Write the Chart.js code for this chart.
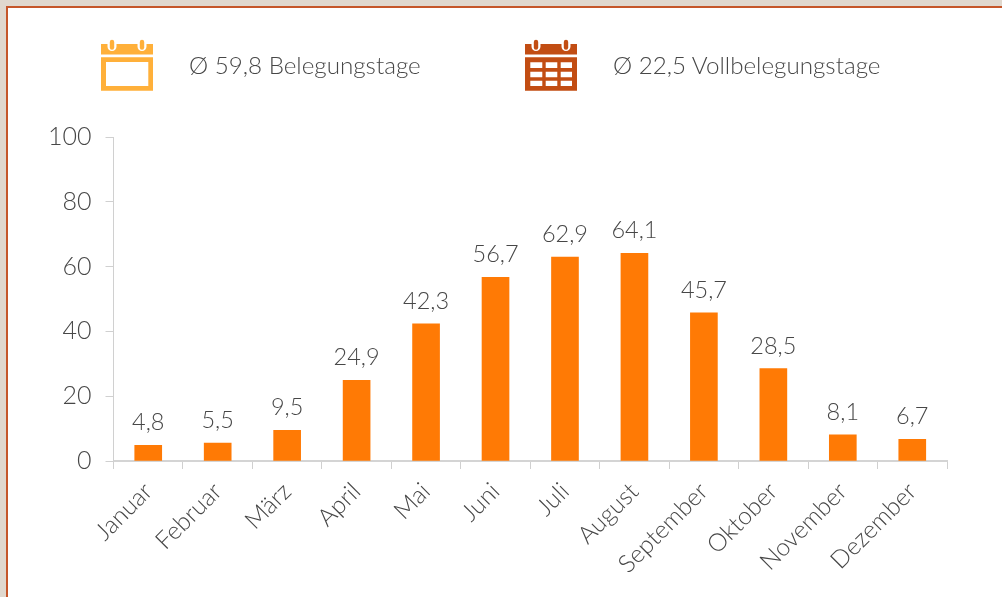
<!DOCTYPE html>
<html><head><meta charset="utf-8">
<script src="https://cdn.jsdelivr.net/npm/chart.js@4/dist/chart.umd.js"></script>
<style>
html,body{margin:0;padding:0;background:#fff;overflow:hidden}
#frame{position:absolute;left:0;top:0;width:1002px;height:597px;background:#e0d8ce}
#inner{position:absolute;left:6px;top:6px;width:996px;height:591px;background:#fff;border-left:2px solid #c5562a;border-top:2px solid #c5562a;box-sizing:border-box}
#c{position:absolute;left:0;top:0}
.lg{position:absolute;top:50px;font:300 24.2px Lato,sans-serif;color:#474747;white-space:nowrap;line-height:30px}
svg{position:absolute}
</style></head><body>
<div id="frame"><div id="inner"></div></div>
<canvas id="c" width="1002" height="597"></canvas>
<svg style="left:101px;top:39px" width="52" height="52" viewBox="0 0 52 52">
<path fill="#ffb03a" d="M0 5H6.500V7.500a4.500 4.500 0 0 0 9 0V5H36.500V7.500a4.500 4.500 0 0 0 9 0V5H52V15.600H0Z"/>
<rect x="8.800" y="0.700" width="4.400" height="10" rx="2.200" fill="#ffb03a"/><rect x="38.800" y="0.700" width="4.400" height="10" rx="2.200" fill="#ffb03a"/>
<path fill="#ffb03a" fill-rule="evenodd" d="M0 18.300H52V51.700H0ZM5 23V47H47.300V23Z"/>
</svg>
<svg style="left:525px;top:39px" width="52" height="52" viewBox="0 0 52 52">
<path fill="#c24d13" d="M0 5H6.500V7.500a4.500 4.500 0 0 0 9 0V5H36.500V7.500a4.500 4.500 0 0 0 9 0V5H52V15.600H0Z"/>
<rect x="8.800" y="0.700" width="4.400" height="10" rx="2.200" fill="#c24d13"/><rect x="38.800" y="0.700" width="4.400" height="10" rx="2.200" fill="#c24d13"/>
<path fill="#c24d13" fill-rule="evenodd" d="M0 18.300H52V51.700H0ZM5.300 23.300V29H17.300V23.300ZM20.700 23.300V29H32.300V23.300ZM35.700 23.300V29H47V23.300ZM5.300 32.700V38.300H17.300V32.700ZM20.700 32.700V38.300H32.300V32.700ZM35.700 32.700V38.300H47V32.700ZM5.300 41.700V47H17.300V41.700ZM20.700 41.700V47H32.300V41.700ZM35.700 41.700V47H47V41.700Z"/>
</svg>
<div class="lg" style="left:189px">Ø 59,8 Belegungstage</div>
<div class="lg" style="left:613px">Ø 22,5 Vollbelegungstage</div>
<script>
const categories=["Januar","Februar","März","April","Mai","Juni","Juli","August","September","Oktober","November","Dezember"];
const belegung=[4.8,5.5,9.5,24.9,42.3,56.7,62.9,64.1,45.7,28.5,8.1,6.7];
const yTicks=[0,20,40,60,80,100];
const valueLabels={id:'valueLabels',afterDatasetsDraw(chart){
  const ctx=chart.ctx,meta=chart.getDatasetMeta(0);
  ctx.save();ctx.font='300 23.5px Lato, sans-serif';ctx.fillStyle='#474747';ctx.textAlign='center';ctx.textBaseline='alphabetic';
  meta.data.forEach((b,i)=>ctx.fillText(String(belegung[i]).replace('.',','),b.x,b.y-15));
  ctx.restore();
}};
new Chart(document.getElementById('c'),{
  type:'bar',
  data:{labels:categories,datasets:[{data:belegung,backgroundColor:'#ff7a05',barThickness:27}]},
  plugins:[valueLabels],
  options:{
    responsive:false,animation:false,
    layout:{padding:{left:0,top:137,right:55,bottom:0}},
    plugins:{legend:{display:false},tooltip:{enabled:false},title:{display:false}},
    scales:{
      x:{
        afterFit(s){s.height=136},
        grid:{drawOnChartArea:false,color:'#d0d0d0',tickLength:8,lineWidth:1},
        border:{color:'#d4d4d4',width:2},
        ticks:{minRotation:45,maxRotation:45,padding:8,color:'#474747',autoSkip:false,font:{family:'Lato',weight:300,size:24.5}}
      },
      y:{
        min:0,max:100,
        afterFit(s){s.width=113.5},
        afterBuildTicks(s){s.ticks=yTicks.map(v=>({value:v}))},
        grid:{drawOnChartArea:false,color:'#d0d0d0',tickLength:8,lineWidth:1},
        border:{color:'#d0d0d0',width:1},
        ticks:{padding:14,color:'#474747',font:{family:'Lato',weight:300,size:25}}
      }
    }
  }
});
</script>
</body></html>
